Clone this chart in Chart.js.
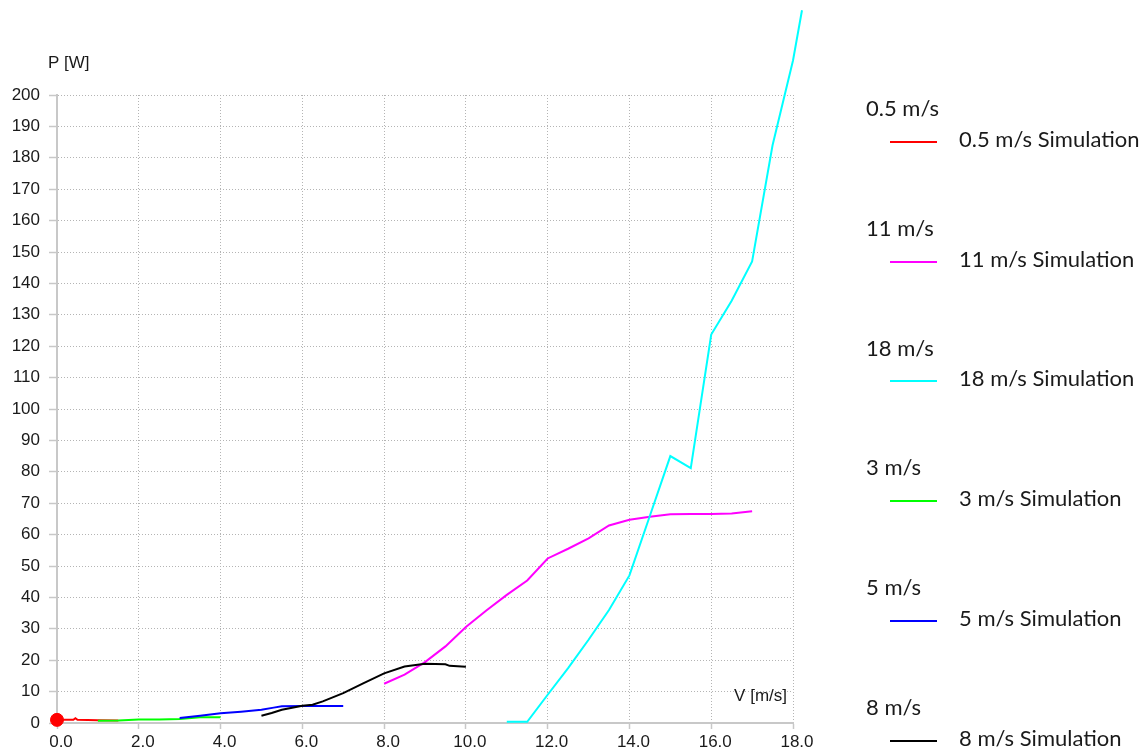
<!DOCTYPE html>
<html>
<head>
<meta charset="utf-8">
<title>P [W] vs V [m/s]</title>
<script src="https://cdn.jsdelivr.net/npm/chart.js@4.4.1/dist/chart.umd.min.js"></script>
<style>
  html, body { margin: 0; padding: 0; background: #ffffff; }
  #wrap { width: 1145px; height: 755px; }
</style>
</head>
<body>
<div id="wrap"><canvas id="chart" width="1145" height="755"></canvas></div>
<script>
// Wind speed series, in legend order
const speeds = ['0.5 m/s', '11 m/s', '18 m/s', '3 m/s', '5 m/s', '8 m/s'];

// Simulated power curves: V [m/s] and P [W]
const v05 = [0.0, 0.4, 0.45, 0.5, 1.0, 1.5];
const p05 = [1.0, 1.0, 1.5, 1.0, 0.9, 0.8];

const v11 = [8.0, 8.5, 9.0, 9.5, 10.0, 10.5, 11.0, 11.5, 12.0, 12.5, 13.0, 13.5, 14.0, 14.5, 15.0, 15.5, 16.0, 16.5, 17.0];
const p11 = [12.5, 15.4, 19.4, 24.4, 30.6, 35.8, 40.8, 45.4, 52.4, 55.5, 58.8, 62.9, 64.7, 65.7, 66.5, 66.6, 66.6, 66.7, 67.4];

const v18 = [11.0, 11.5, 12.0, 12.5, 13.0, 13.5, 14.0, 14.5, 15.0, 15.5, 16.0, 16.5, 17.0, 17.5, 18.0, 18.22];
const p18 = [0.4, 0.4, 9.0, 17.5, 26.5, 36.0, 47.0, 66.0, 85.0, 81.2, 123.7, 134.5, 147.0, 184.0, 211.0, 227.0];

const v3 = [1.0, 1.5, 2.0, 2.5, 3.0, 3.5, 4.0];
const p3 = [0.7, 0.8, 1.1, 1.1, 1.3, 1.8, 1.8];

const v5 = [3.0, 3.5, 4.0, 4.5, 5.0, 5.3, 5.5, 6.0, 6.5, 7.0];
const p5 = [1.6, 2.3, 3.1, 3.6, 4.2, 4.9, 5.3, 5.4, 5.4, 5.4];

const v8 = [5.0, 5.25, 5.5, 6.0, 6.25, 6.5, 7.0, 7.5, 8.0, 8.5, 9.0, 9.5, 9.6, 10.0];
const p8 = [2.3, 3.2, 4.2, 5.5, 5.8, 6.9, 9.5, 12.7, 15.8, 18.0, 18.9, 18.7, 18.2, 17.9];

// Measured points
const measV05 = [0.0];
const measP05 = [1.0];

const simV = [v05, v11, v18, v3, v5, v8];
const simP = [p05, p11, p18, p3, p5, p8];
const measV = [measV05, [], [], [], [], []];
const measP = [measP05, [], [], [], [], []];

// Axis ranges and titles
const xRange = [0, 18];
const yRange = [0, 200];
const xTitle = 'V [m/s]';
const yTitle = 'P [W]';

// Styling per series
const colors = ['#ff0000', '#ff00ff', '#00ffff', '#00ff00', '#0000ff', '#000000'];
const drawOrder = [6, 3, 2, 5, 4, 1];

function toXY(xs, ys) {
  return xs.map((x, i) => ({ x: x, y: ys[i] }));
}

const datasets = [];
speeds.forEach((name, i) => {
  datasets.push({
    label: name,
    data: toXY(measV[i], measP[i]),
    showLine: false,
    pointRadius: 6.5,
    pointHoverRadius: 6.5,
    pointBackgroundColor: colors[i],
    pointBorderColor: colors[i],
    borderColor: colors[i],
    backgroundColor: colors[i],
    clip: false,
    order: 0
  });
  datasets.push({
    label: name + ' Simulation',
    data: toXY(simV[i], simP[i]),
    borderColor: colors[i],
    backgroundColor: colors[i],
    borderWidth: 2,
    pointRadius: 0,
    tension: 0,
    fill: false,
    clip: false,
    order: drawOrder[i]
  });
});

const textColor = '#1a1a1a';
const axisGray = '#c8c8c8';
const gridGray = '#b4b4b4';
const tickFont = { family: '"Liberation Sans", Arial, sans-serif', size: 17 };

// Axis titles and the two-line legend entries on the right
const overlay = {
  id: 'overlay',
  afterDraw(chart) {
    const ctx = chart.ctx;
    const area = chart.chartArea;
    ctx.save();
    ctx.fillStyle = textColor;
    ctx.textBaseline = 'middle';
    ctx.font = '17px "Liberation Sans", Arial, sans-serif';
    ctx.textAlign = 'left';
    ctx.fillText(yTitle, area.left - 9, area.top - 32);
    ctx.textAlign = 'right';
    ctx.fillText(xTitle, area.right - 6, area.bottom - 27);

    const legendLeft = area.right + 73;
    const groupTop = area.top + 14;
    const groupStep = 119.8;
    ctx.font = '22px Lato, "Open Sans", sans-serif';
    ctx.textAlign = 'left';
    speeds.forEach((name, i) => {
      const ds = chart.data.datasets[i * 2 + 1];
      const y = groupTop + i * groupStep;
      ctx.fillStyle = textColor;
      ctx.fillText(chart.data.datasets[i * 2].label, legendLeft, y);
      const ly = Math.round(y + 32.7);
      ctx.strokeStyle = ds.borderColor;
      ctx.lineWidth = 2;
      ctx.beginPath();
      ctx.moveTo(legendLeft + 24, ly);
      ctx.lineTo(legendLeft + 71, ly);
      ctx.stroke();
      ctx.fillStyle = textColor;
      ctx.fillText(ds.label, legendLeft + 93, ly - 2, 182);
    });
    ctx.restore();
  }
};

new Chart(document.getElementById('chart'), {
  type: 'line',
  data: { datasets: datasets },
  plugins: [overlay],
  options: {
    responsive: false,
    devicePixelRatio: 1,
    animation: false,
    events: [],
    layout: { padding: { top: 95, right: 352, left: 0, bottom: 0 } },
    plugins: {
      legend: { display: false },
      tooltip: { enabled: false }
    },
    scales: {
      x: {
        type: 'linear',
        // range set after data limits so the curve running past 18.0 is still drawn
        afterDataLimits: (s) => { s.min = xRange[0]; s.max = xRange[1]; },
        afterFit: (s) => { s.height = 32; },
        grid: {
          color: gridGray,
          lineWidth: 1,
          tickLength: 6,
          tickColor: axisGray,
          tickWidth: 1.5
        },
        border: { display: true, color: axisGray, width: 2, dash: [1, 2] },
        ticks: {
          stepSize: 2,
          color: textColor,
          font: tickFont,
          padding: 3,
          labelOffset: 4,
          maxRotation: 0,
          autoSkip: false,
          callback: (v) => Number(v).toFixed(1)
        }
      },
      y: {
        type: 'linear',
        min: yRange[0],
        max: yRange[1],
        afterFit: (s) => { s.width = 57; },
        grid: {
          color: gridGray,
          lineWidth: 1,
          tickLength: 8,
          tickColor: axisGray,
          tickWidth: 1.5
        },
        border: { display: true, color: axisGray, width: 2, dash: [1, 2] },
        ticks: {
          stepSize: 10,
          color: textColor,
          font: tickFont,
          padding: 9,
          autoSkip: false
        }
      }
    }
  }
});
</script>
</body>
</html>
